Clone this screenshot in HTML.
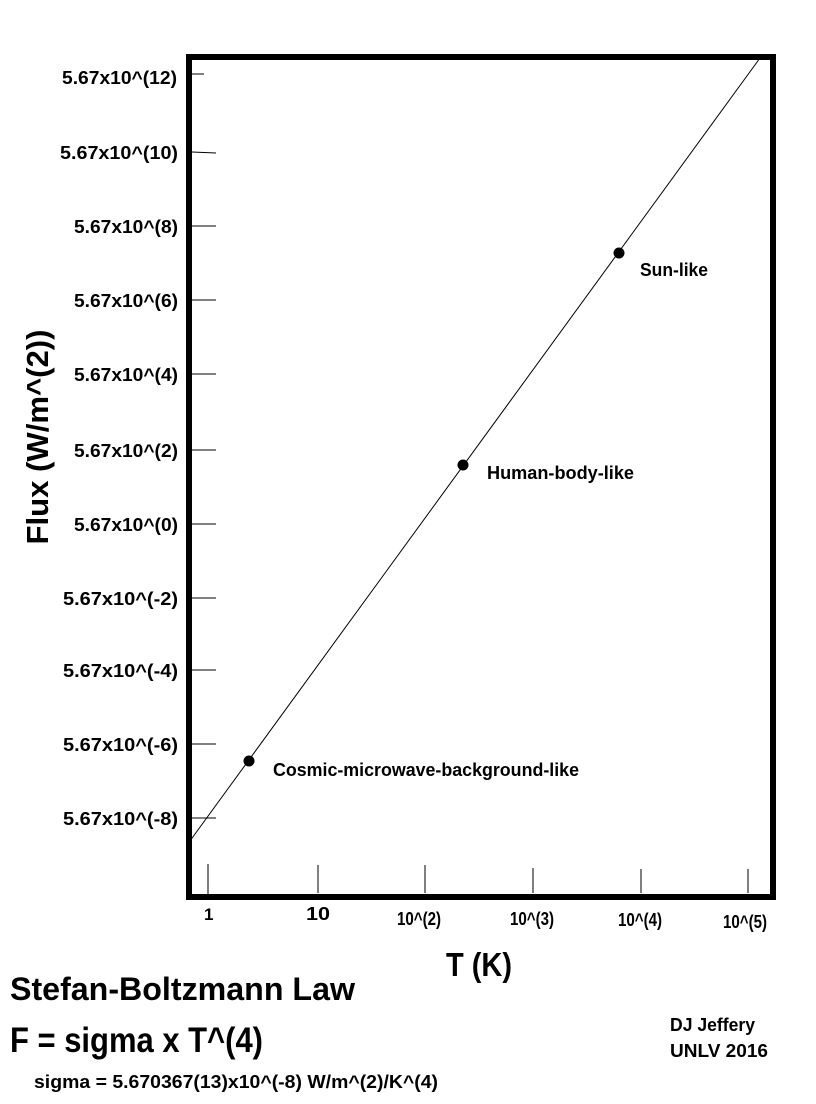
<!DOCTYPE html>
<html><head><meta charset="utf-8"><style>
html,body{margin:0;padding:0;background:#fff;}
svg{display:block;}
text{font-family:"Liberation Sans",sans-serif;font-weight:bold;fill:#000;}
</style></head><body>
<svg width="816" height="1104" viewBox="0 0 816 1104">
<rect x="189" y="57" width="584" height="840" fill="none" stroke="#000" stroke-width="6"/>
<g stroke="#000" stroke-width="1">
<line x1="192" y1="74" x2="204" y2="74"/>
<line x1="192" y1="152" x2="216" y2="153"/>
<line x1="192" y1="226" x2="216" y2="226"/>
<line x1="192" y1="300" x2="216" y2="300"/>
<line x1="192" y1="374" x2="216" y2="374"/>
<line x1="192" y1="450" x2="216" y2="450"/>
<line x1="192" y1="524" x2="216" y2="524"/>
<line x1="192" y1="598" x2="216" y2="598"/>
<line x1="192" y1="670" x2="216" y2="670"/>
<line x1="192" y1="744" x2="216" y2="744"/>
<line x1="192" y1="818" x2="216" y2="818"/>
<line x1="208" y1="864" x2="208" y2="894"/>
<line x1="318" y1="865" x2="318" y2="893"/>
<line x1="425" y1="865" x2="425" y2="893"/>
<line x1="533" y1="868" x2="533" y2="893"/>
<line x1="641" y1="869" x2="641" y2="893"/>
<line x1="748" y1="869" x2="748" y2="893"/>
<line x1="187" y1="845" x2="760" y2="58"/>
</g>
<circle cx="249" cy="761" r="5.5"/>
<circle cx="463" cy="465" r="5.5"/>
<circle cx="619" cy="253" r="5.5"/>
<g font-size="18">
<text x="62" y="84" textLength="115" lengthAdjust="spacingAndGlyphs">5.67x10^(12)</text>
<text x="60" y="159" textLength="118" lengthAdjust="spacingAndGlyphs">5.67x10^(10)</text>
<text x="74" y="233" textLength="104" lengthAdjust="spacingAndGlyphs">5.67x10^(8)</text>
<text x="74" y="307" textLength="104" lengthAdjust="spacingAndGlyphs">5.67x10^(6)</text>
<text x="74" y="381" textLength="104" lengthAdjust="spacingAndGlyphs">5.67x10^(4)</text>
<text x="74" y="457" textLength="104" lengthAdjust="spacingAndGlyphs">5.67x10^(2)</text>
<text x="74" y="531" textLength="104" lengthAdjust="spacingAndGlyphs">5.67x10^(0)</text>
<text x="63" y="605" textLength="115" lengthAdjust="spacingAndGlyphs">5.67x10^(-2)</text>
<text x="63" y="677" textLength="115" lengthAdjust="spacingAndGlyphs">5.67x10^(-4)</text>
<text x="63" y="751" textLength="115" lengthAdjust="spacingAndGlyphs">5.67x10^(-6)</text>
<text x="63" y="825" textLength="115" lengthAdjust="spacingAndGlyphs">5.67x10^(-8)</text>
<text x="204" y="920" font-size="17">1</text>
<text x="306" y="920" textLength="24" lengthAdjust="spacingAndGlyphs">10</text>
<text x="397" y="925" textLength="44" lengthAdjust="spacingAndGlyphs">10^(2)</text>
<text x="510" y="925" textLength="44" lengthAdjust="spacingAndGlyphs">10^(3)</text>
<text x="618" y="926" textLength="44" lengthAdjust="spacingAndGlyphs">10^(4)</text>
<text x="723" y="928" textLength="44" lengthAdjust="spacingAndGlyphs">10^(5)</text>
<text x="640" y="276" textLength="68" lengthAdjust="spacingAndGlyphs">Sun-like</text>
<text x="487" y="479" textLength="147" lengthAdjust="spacingAndGlyphs">Human-body-like</text>
<text x="273" y="776" textLength="306" lengthAdjust="spacingAndGlyphs">Cosmic-microwave-background-like</text>
<text x="670" y="1031" textLength="85" lengthAdjust="spacingAndGlyphs">DJ Jeffery</text>
<text x="670" y="1057" textLength="98" lengthAdjust="spacingAndGlyphs">UNLV 2016</text>
<text x="34" y="1088" textLength="404" lengthAdjust="spacingAndGlyphs">sigma = 5.670367(13)x10^(-8) W/m^(2)/K^(4)</text>
</g>
<text x="446" y="976" font-size="33" textLength="66" lengthAdjust="spacingAndGlyphs">T (K)</text>
<text transform="translate(48,437) rotate(-90)" text-anchor="middle" font-size="31" textLength="215" lengthAdjust="spacingAndGlyphs">Flux (W/m^(2))</text>
<text x="10" y="1000" font-size="32" textLength="345" lengthAdjust="spacingAndGlyphs">Stefan-Boltzmann Law</text>
<text x="10" y="1052" font-size="35" textLength="253" lengthAdjust="spacingAndGlyphs">F = sigma x T^(4)</text>
</svg>
</body></html>
